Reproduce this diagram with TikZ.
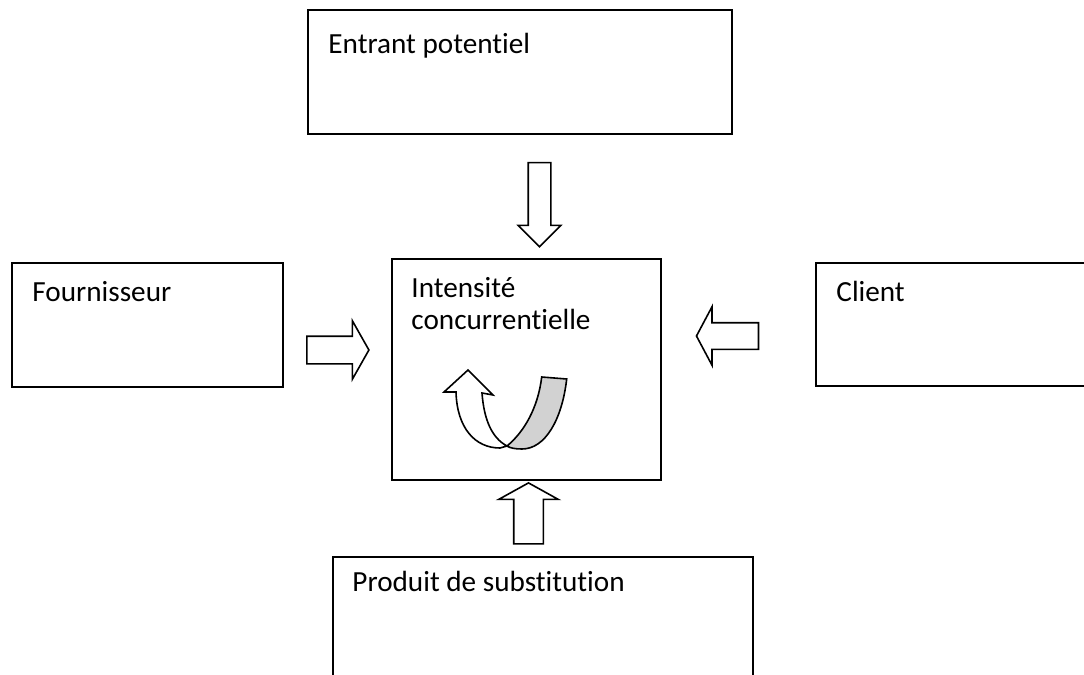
\documentclass[tikz,border=0pt]{standalone}
\usepackage{fontspec}
\setmainfont{Carlito}[RawFeature=-liga]
\usepackage{tikz}
\usetikzlibrary{shapes}

\begin{document}
\begin{tikzpicture}[x=0.5pt,y=-0.5pt,
  box/.style={draw, rectangle, line width=0.95pt, inner sep=0pt},
  boxtext/.style={anchor=base west, inner sep=0pt, font=\fontsize{14.6pt}{16pt}\selectfont},
  blockarrow/.style={draw, single arrow, line width=0.8pt, inner xsep=0pt, fill=white}]
\useasboundingbox (0,0) rectangle (1084,675);
\clip (0,0) rectangle (1084,675);

\node[box, minimum width=212pt, minimum height=62pt] (entrant) at (520,72) {};
\node[box, minimum width=135.5pt, minimum height=62pt] (fourn) at (147.5,325) {};
\node[box, minimum width=134.5pt, minimum height=110.5pt] (intens) at (526.5,369.5) {};
\node[box, minimum width=150pt, minimum height=61.5pt] (client) at (966,324.5) {};
\node[box, minimum width=210pt, minimum height=71.5pt] (produit) at (543,628.5) {};

\node[boxtext] (t1) at ([xshift=10.5pt,yshift=-22pt]entrant.north west) {Entrant potentiel};
\node[boxtext] (t2) at ([xshift=10.5pt,yshift=-19.5pt]fourn.north west) {Fournisseur};
\node[boxtext] (t3) at ([xshift=10pt,yshift=-19.5pt]intens.north west) {Intensité};
\node[boxtext] (t4) at ([yshift=-16pt]t3.base west) {concurrentielle};
\node[boxtext] (t5) at ([xshift=10.5pt,yshift=-19.5pt]client.north west) {Client};
\node[boxtext] (t6) at ([xshift=10pt,yshift=-17.5pt]produit.north west) {Produit de substitution};

\node[blockarrow, rotate=-90, inner ysep=5.25pt, single arrow head extend=5pt, single arrow tip angle=90, minimum height=42pt] (a1) at (539.5,199) {};
\node[blockarrow, inner ysep=6.5pt, single arrow head extend=7.75pt, single arrow tip angle=121, minimum height=31pt] (a2) at (334,350) {};
\node[blockarrow, rotate=180, inner ysep=6.25pt, single arrow head extend=8pt, single arrow tip angle=124, minimum height=31pt] (a3) at (731,336) {};
\node[blockarrow, rotate=90, inner ysep=7pt, single arrow head extend=7.5pt, single arrow tip angle=122, minimum height=30.5pt] (a4) at (528.5,517.5) {};

\draw[line width=0.8pt, fill=gray!35] (541.7,377) -- (566.7,379) .. controls (562,420) and (545,449) .. (522,449) .. controls (515,449) and (510,448) .. (507,446) .. controls (524,432) and (538,408) .. cycle;
\draw[line width=0.8pt, fill=white, line join=miter] (468,370) -- (493,395) -- (482,393) .. controls (484,420) and (492,438) .. (507,446) -- (500,448) .. controls (475,448) and (457,428) .. (456,392) -- (444,392) -- cycle;
\end{tikzpicture}
\end{document}
